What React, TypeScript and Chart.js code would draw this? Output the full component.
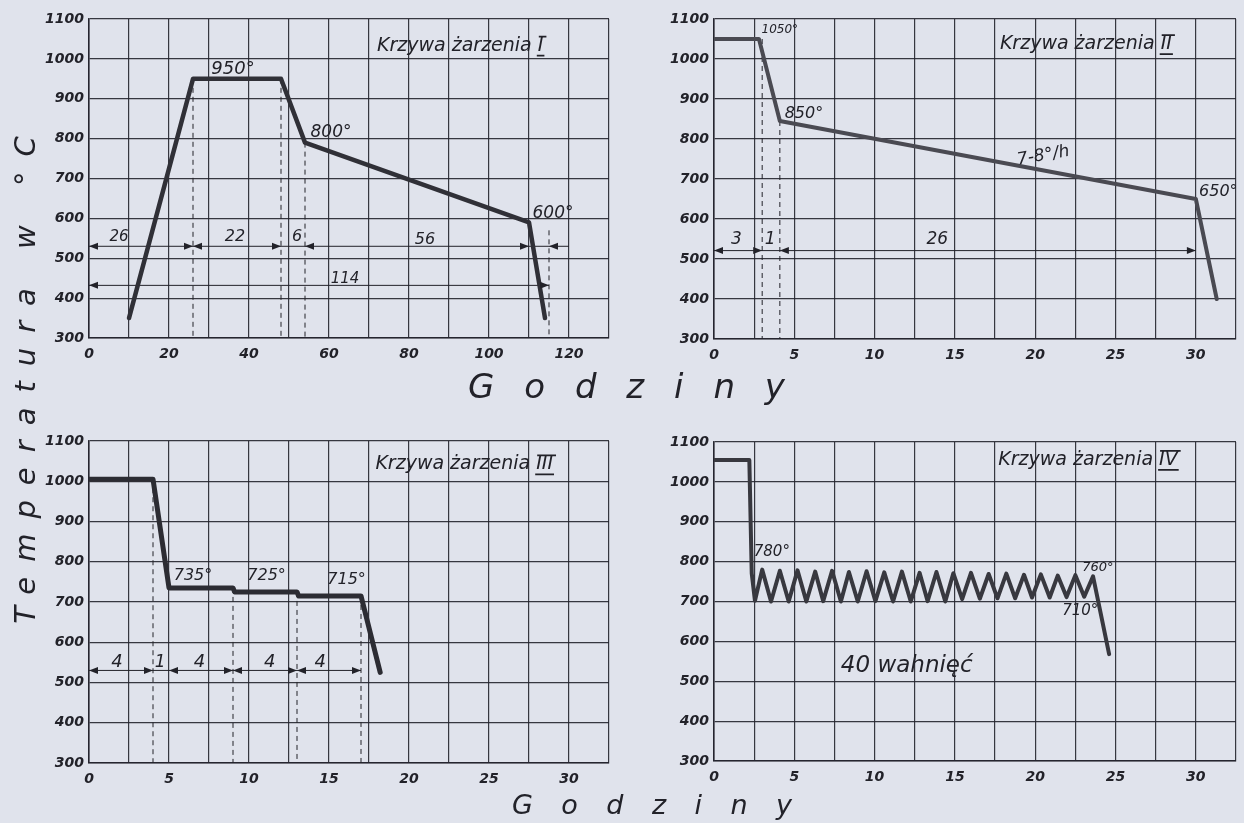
import React, { useEffect, useRef } from 'react';
import { Chart, registerables } from 'chart.js';

Chart.register(...registerables);

const FONT = "'DejaVu Sans', 'Liberation Sans', sans-serif";
const INK = '#222229';
const GRID = 'rgba(35,35,45,0.9)';
const BG = '#e0e3ec';

// ---------- shared axis labels ----------
const tempLabels = [300, 400, 500, 600, 700, 800, 900, 1000, 1100];
const hourLabelsI = [0, 20, 40, 60, 80, 100, 120];
const hourLabelsShort = [0, 5, 10, 15, 20, 25, 30];

// ---------- Krzywa żarzenia I ----------
const hoursI = [10, 26, 48, 54, 110, 114];
const tempI = [350, 950, 950, 790, 590, 350];
const dashHoursI = [26, 48, 54, 115];
const dashTopI = [950, 950, 790, 570];
const dimLevelI = [530, 432];
const dimStartI = [0, 0];
const dimEndI = [120, 115];
const arrowHoursI = [0, 26, 26, 48, 54, 110, 115, 0, 115];
const arrowLevelI = [530, 530, 530, 530, 530, 530, 530, 432, 432];
const arrowDirI = [-1, 1, -1, 1, -1, 1, -1, -1, 1];
const noteTextI = ['950°', '800°', '600°', '26', '22', '6', '56', '114'];
const noteHoursI = [36, 60.5, 116, 7.5, 36.5, 52, 84, 64];
const noteTempI = [975, 815, 612, 553, 553, 553, 546, 448];

// ---------- Krzywa żarzenia II ----------
const hoursII = [0, 2.8, 4.1, 30, 31.3];
const tempII = [1050, 1050, 845, 650, 400];
const dashHoursII = [3, 4.1];
const dashTopII = [1050, 845];
const dimLevelII = [521];
const dimStartII = [0];
const dimEndII = [30];
const arrowHoursII = [0, 3, 4.1, 30];
const arrowLevelII = [521, 521, 521, 521];
const arrowDirII = [-1, 1, -1, 1];
const noteTextII = ['1050°', '850°', '7-8°/h', '650°', '3', '1', '26'];
const noteHoursII = [4.1, 5.6, 20.5, 31.4, 1.4, 3.5, 13.9];
const noteTempII = [1072, 862, 758, 668, 548, 548, 548];

// ---------- Krzywa żarzenia III ----------
const hoursIII = [0, 4, 5, 9, 9.1, 13, 13.1, 17, 18.2];
const tempIII = [1005, 1005, 735, 735, 725, 725, 715, 715, 525];
const dashHoursIII = [4, 9, 13, 17];
const dashTopIII = [1005, 735, 725, 715];
const dimLevelIII = [530];
const dimStartIII = [0];
const dimEndIII = [17];
const arrowHoursIII = [0, 4, 5, 9, 9, 13, 13, 17];
const arrowLevelIII = [530, 530, 530, 530, 530, 530, 530, 530];
const arrowDirIII = [-1, 1, -1, 1, -1, 1, -1, 1];
const noteTextIII = ['735°', '725°', '715°', '4', '1', '4', '4', '4'];
const noteHoursIII = [6.5, 11.1, 16.1, 1.75, 4.45, 6.9, 11.3, 14.45];
const noteTempIII = [766, 766, 754, 549, 549, 549, 549, 549];

// ---------- Krzywa żarzenia IV ----------
const hoursIV = [
  0, 2.2, 2.35, 2.55,
  3.0, 3.55, 4.1, 4.65, 5.2, 5.75, 6.3, 6.8, 7.35, 7.9, 8.4, 8.95, 9.5, 10.05,
  10.6, 11.15, 11.7, 12.25, 12.8, 13.3, 13.85, 14.4, 14.9, 15.45, 16.0, 16.55,
  17.1, 17.65, 18.2, 18.75, 19.3, 19.8, 20.35, 20.9, 21.4, 21.95, 22.5, 23.05,
  23.6, 24.6,
];
const tempIV = [
  1055, 1055, 770, 702,
  780, 700, 777, 700, 778, 700, 775, 701, 777, 700, 774, 700, 776, 701,
  773, 700, 775, 700, 772, 701, 774, 700, 771, 706, 772, 707,
  769, 708, 770, 708, 767, 710, 768, 710, 765, 711, 766, 712,
  763, 568,
];
const noteTextIV = ['780°', '760°', '710°', '40 wahnięć'];
const noteHoursIV = [3.6, 23.9, 22.8, 12];
const noteTempIV = [823, 784, 675, 537];

// ---------- layout / style ----------
const AXW = 60;
const AXH = 30;
const PADT = 20;
const PADR = 4;
const ARROW_LEN = 9;
const ARROW_HALF = 3.5;

type PanelSpec = {
  box: { left: number; top: number; right: number; bottom: number };
  xMax: number;
  xStep: number;
  xLabels: number[];
  hours: number[];
  temps: number[];
  curveWidth: number;
  curveColor: string;
  dashHours: number[];
  dashTop: number[];
  dimLevel: number[];
  dimStart: number[];
  dimEnd: number[];
  arrowHours: number[];
  arrowLevel: number[];
  arrowDir: number[];
  noteText: string[];
  noteHours: number[];
  noteTemp: number[];
  noteSize: number[];
  noteRot: number[];
  numeral: string;
  titleHours: number;
  titleTemp: number;
};

const panels: PanelSpec[] = [
  {
    box: { left: 89, top: 19, right: 613, bottom: 338 },
    xMax: 130, xStep: 10, xLabels: hourLabelsI,
    hours: hoursI, temps: tempI, curveWidth: 4.5, curveColor: '#303037',
    dashHours: dashHoursI, dashTop: dashTopI,
    dimLevel: dimLevelI, dimStart: dimStartI, dimEnd: dimEndI,
    arrowHours: arrowHoursI, arrowLevel: arrowLevelI, arrowDir: arrowDirI,
    noteText: noteTextI, noteHours: noteHoursI, noteTemp: noteTempI,
    noteSize: [18, 17, 17, 15, 16, 16, 16, 15], noteRot: [0, 0, 0, 0, 0, 0, 0, 0],
    numeral: 'I', titleHours: 72, titleTemp: 1033,
  },
  {
    box: { left: 714, top: 19, right: 1240, bottom: 339 },
    xMax: 32.5, xStep: 2.5, xLabels: hourLabelsShort,
    hours: hoursII, temps: tempII, curveWidth: 4, curveColor: '#4a4a52',
    dashHours: dashHoursII, dashTop: dashTopII,
    dimLevel: dimLevelII, dimStart: dimStartII, dimEnd: dimEndII,
    arrowHours: arrowHoursII, arrowLevel: arrowLevelII, arrowDir: arrowDirII,
    noteText: noteTextII, noteHours: noteHoursII, noteTemp: noteTempII,
    noteSize: [12, 16, 17, 16, 17, 17, 17], noteRot: [0, 0, -10, 0, 0, 0, 0],
    numeral: 'II', titleHours: 17.8, titleTemp: 1037,
  },
  {
    box: { left: 89, top: 441, right: 613, bottom: 763 },
    xMax: 32.5, xStep: 2.5, xLabels: hourLabelsShort,
    hours: hoursIII, temps: tempIII, curveWidth: 5, curveColor: '#2c2c33',
    dashHours: dashHoursIII, dashTop: dashTopIII,
    dimLevel: dimLevelIII, dimStart: dimStartIII, dimEnd: dimEndIII,
    arrowHours: arrowHoursIII, arrowLevel: arrowLevelIII, arrowDir: arrowDirIII,
    noteText: noteTextIII, noteHours: noteHoursIII, noteTemp: noteTempIII,
    noteSize: [16, 16, 16, 18, 17, 18, 18, 18], noteRot: [0, 0, 0, 0, 0, 0, 0, 0],
    numeral: 'III', titleHours: 17.9, titleTemp: 1042,
  },
  {
    box: { left: 714, top: 442, right: 1240, bottom: 761 },
    xMax: 32.5, xStep: 2.5, xLabels: hourLabelsShort,
    hours: hoursIV, temps: tempIV, curveWidth: 4, curveColor: '#38383f',
    dashHours: [], dashTop: [],
    dimLevel: [], dimStart: [], dimEnd: [],
    arrowHours: [], arrowLevel: [], arrowDir: [],
    noteText: noteTextIV, noteHours: noteHoursIV, noteTemp: noteTempIV,
    noteSize: [15, 13, 15, 23], noteRot: [0, 0, 0, 0],
    numeral: 'IV', titleHours: 17.7, titleTemp: 1055,
  },
];

function notesPlugin(s: PanelSpec) {
  return {
    id: 'notes',
    afterDatasetsDraw(chart: any) {
      const ctx: CanvasRenderingContext2D = chart.ctx;
      const xs = chart.scales.x;
      const ys = chart.scales.y;
      ctx.save();
      ctx.fillStyle = INK;
      ctx.strokeStyle = INK;
      s.arrowHours.forEach((h, i) => {
        const px = xs.getPixelForValue(h);
        const py = ys.getPixelForValue(s.arrowLevel[i]);
        const d = s.arrowDir[i];
        ctx.beginPath();
        ctx.moveTo(px, py);
        ctx.lineTo(px - d * ARROW_LEN, py - ARROW_HALF);
        ctx.lineTo(px - d * ARROW_LEN, py + ARROW_HALF);
        ctx.closePath();
        ctx.fill();
      });
      ctx.textAlign = 'center';
      ctx.textBaseline = 'middle';
      s.noteText.forEach((t, i) => {
        const px = xs.getPixelForValue(s.noteHours[i]);
        const py = ys.getPixelForValue(s.noteTemp[i]);
        ctx.save();
        ctx.translate(px, py);
        ctx.rotate(((s.noteRot[i] || 0) * Math.PI) / 180);
        ctx.font = `italic ${s.noteSize[i]}px ${FONT}`;
        ctx.fillText(t, 0, 0);
        ctx.restore();
      });
      // title
      ctx.font = `italic 19px ${FONT}`;
      ctx.textAlign = 'left';
      const tx = xs.getPixelForValue(s.titleHours);
      const ty = ys.getPixelForValue(s.titleTemp);
      const pre = 'Krzywa żarzenia ';
      ctx.fillText(pre, tx, ty);
      const w1 = ctx.measureText(pre).width;
      ctx.fillText(s.numeral, tx + w1, ty);
      const w2 = ctx.measureText(s.numeral).width;
      ctx.lineWidth = 1.8;
      ctx.beginPath();
      ctx.moveTo(tx + w1 - 1, ty + 10);
      ctx.lineTo(tx + w1 + w2 + 1, ty + 10);
      ctx.moveTo(tx + w1 + 1, ty - 9);
      ctx.lineTo(tx + w1 + w2 + 3, ty - 9);
      ctx.stroke();
      ctx.restore();
    },
  };
}

function buildConfig(s: PanelSpec): any {
  const datasets: any[] = [];
  datasets.push({
    data: s.hours.map((h, i) => ({ x: h, y: s.temps[i] })),
    borderColor: s.curveColor,
    borderWidth: s.curveWidth,
    pointRadius: 0,
    borderJoinStyle: 'round',
    borderCapStyle: 'round',
    tension: 0,
  });
  s.dimLevel.forEach((lv, i) =>
    datasets.push({
      data: [
        { x: s.dimStart[i], y: lv },
        { x: s.dimEnd[i], y: lv },
      ],
      borderColor: INK,
      borderWidth: 1,
      pointRadius: 0,
    })
  );
  s.dashHours.forEach((h, i) =>
    datasets.push({
      data: [
        { x: h, y: s.dashTop[i] },
        { x: h, y: 300 },
      ],
      borderColor: INK,
      borderWidth: 1,
      borderDash: [5, 4],
      pointRadius: 0,
    })
  );
  const tickFont = { family: FONT, size: 14, style: 'italic' as const, weight: 'bold' as const };
  return {
    type: 'line',
    data: { datasets },
    options: {
      animation: false,
      responsive: false,
      maintainAspectRatio: false,
      layout: { padding: { top: PADT, right: PADR, bottom: 0, left: 0 } },
      plugins: { legend: { display: false }, tooltip: { enabled: false } },
      scales: {
        x: {
          type: 'linear',
          min: 0,
          max: s.xMax,
          afterFit: (sc: any) => {
            sc.height = AXH;
          },
          ticks: {
            stepSize: s.xStep,
            autoSkip: false,
            maxRotation: 0,
            padding: 8,
            color: INK,
            font: tickFont,
            callback: (v: number) =>
              s.xLabels.some((l) => Math.abs(l - v) < 1e-6) ? String(Math.round(v)) : '',
          },
          grid: { color: GRID, lineWidth: 1.2, drawTicks: false },
          border: { color: GRID, width: 1.6 },
        },
        y: {
          type: 'linear',
          min: 300,
          max: 1100,
          afterFit: (sc: any) => {
            sc.width = AXW;
          },
          ticks: {
            stepSize: 100,
            padding: 5,
            color: INK,
            font: tickFont,
            callback: (v: number) => (tempLabels.includes(v) ? String(v) : ''),
          },
          grid: { color: GRID, lineWidth: 1.2, drawTicks: false },
          border: { color: GRID, width: 1.6 },
        },
      },
    },
    plugins: [notesPlugin(s)],
  };
}

function Panel({ spec }: { spec: PanelSpec }) {
  const ref = useRef<HTMLCanvasElement>(null);
  useEffect(() => {
    const chart = new Chart(ref.current as HTMLCanvasElement, buildConfig(spec));
    return () => chart.destroy();
  }, [spec]);
  const { left, top, right, bottom } = spec.box;
  const w = right - left + AXW + PADR;
  const h = bottom - top + PADT + AXH;
  return (
    <canvas
      ref={ref}
      width={w}
      height={h}
      style={{ position: 'absolute', left: left - AXW, top: top - PADT, width: w, height: h }}
    />
  );
}

const hoursWord = ['G', 'o', 'd', 'z', 'i', 'n', 'y'];

function SpacedWord({ left, top, width, size }: { left: number; top: number; width: number; size: number }) {
  return (
    <div
      style={{
        position: 'absolute',
        left,
        top,
        width,
        display: 'flex',
        justifyContent: 'space-between',
        fontFamily: FONT,
        fontStyle: 'italic',
        fontSize: size,
        lineHeight: `${size + 6}px`,
        color: INK,
      }}
    >
      {hoursWord.map((c, i) => (
        <span key={i}>{c}</span>
      ))}
    </div>
  );
}

export default function App() {
  return (
    <div
      style={{
        position: 'fixed',
        left: 0,
        top: 0,
        width: 1244,
        height: 823,
        background: BG,
        overflow: 'hidden',
      }}
    >
      {panels.map((p, i) => (
        <Panel key={i} spec={p} />
      ))}
      <div
        style={{
          position: 'absolute',
          left: 25 - 290,
          top: 380 - 20,
          width: 580,
          height: 40,
          lineHeight: '40px',
          textAlign: 'center',
          transform: 'rotate(-90deg)',
          fontFamily: FONT,
          fontStyle: 'italic',
          fontSize: 29,
          letterSpacing: 15,
          paddingLeft: 15,
          boxSizing: 'border-box',
          color: INK,
          whiteSpace: 'nowrap',
        }}
      >
        Temperatura w °C
      </div>
      <SpacedWord left={468} top={366} width={317} size={34} />
      <SpacedWord left={512} top={788} width={280} size={27} />
    </div>
  );
}
